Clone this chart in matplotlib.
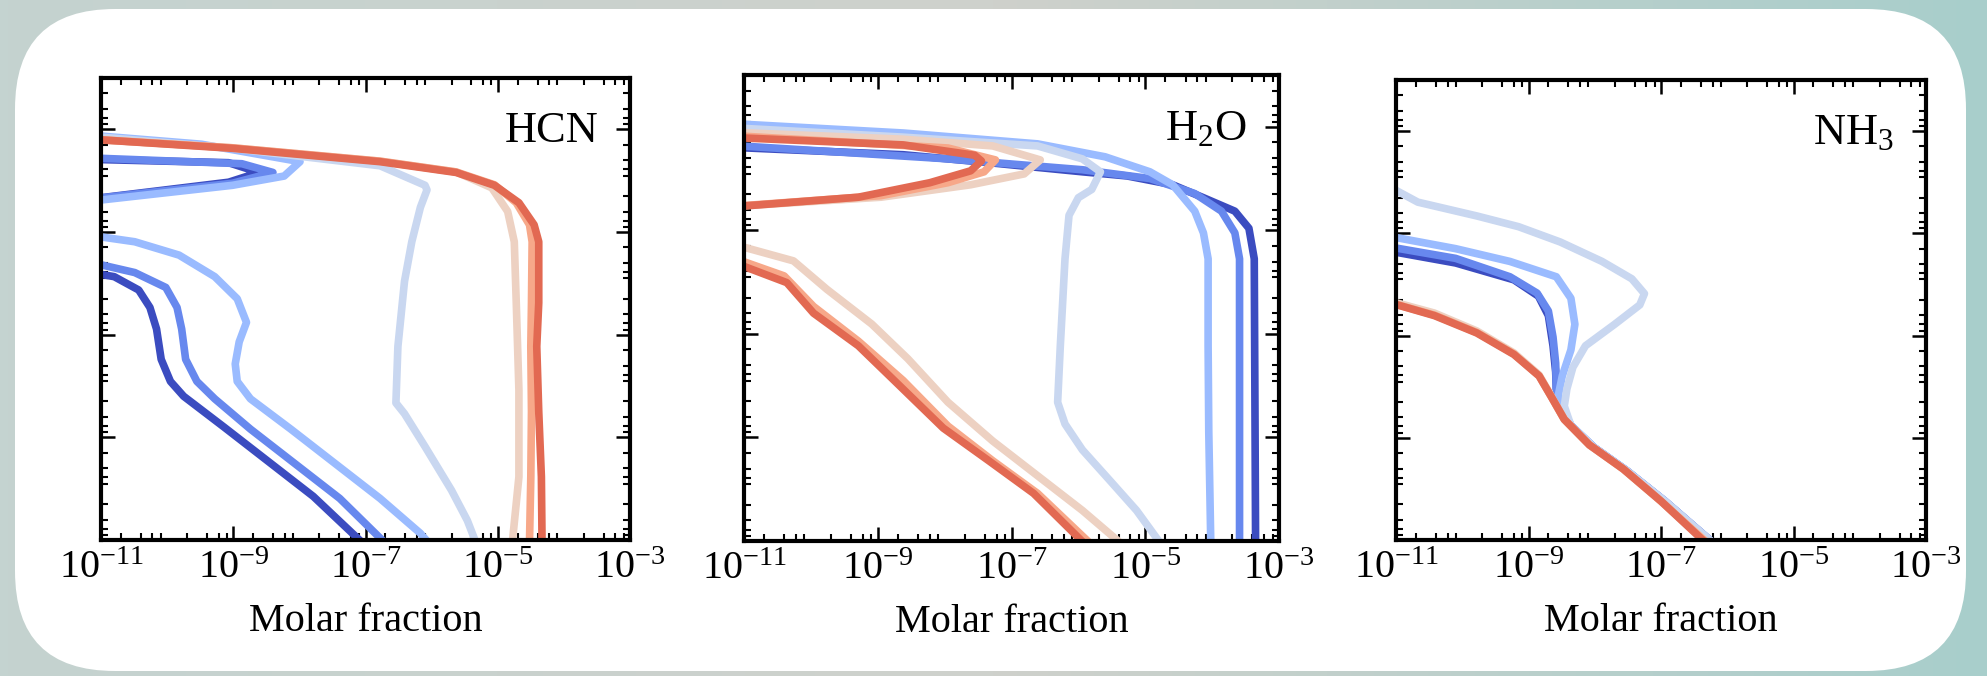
import numpy as np
import matplotlib
matplotlib.use("Agg")
import matplotlib.pyplot as plt
from matplotlib.patches import FancyBboxPatch
from matplotlib.ticker import FixedLocator, LogFormatterMathtext, NullFormatter
from matplotlib.colors import LinearSegmentedColormap

plt.rcParams['font.family'] = ['Liberation Serif', 'DejaVu Serif']
plt.rcParams['mathtext.fontset'] = 'custom'
plt.rcParams['mathtext.rm'] = 'Liberation Serif'
plt.rcParams['mathtext.it'] = 'Liberation Serif:italic'

# each curve: list of (log10 molar fraction, log10 pressure); x < -11 means off the left edge
hcn = [
    # dark blue
    [(-11.3, -5.42), (-9.07, -5.35), (-8.61, -5.16), (-9.07, -4.97), (-11.3, -4.62), (-14, -4.0),
     (-11.3, -3.24), (-10.80, -3.13), (-10.43, -2.87), (-10.26, -2.53), (-10.16, -2.11), (-10.09, -1.52),
     (-9.95, -1.09), (-9.75, -0.80), (-9.14, -0.20), (-8.47, 0.47), (-7.79, 1.15), (-7.05, 2.05)],
    # blue
    [(-11.3, -5.45), (-8.87, -5.33), (-8.40, -5.16), (-9.01, -4.95), (-11.3, -4.62), (-14, -4.0),
     (-11.3, -3.45), (-10.49, -3.21), (-10.02, -2.92), (-9.85, -2.53), (-9.78, -2.11), (-9.72, -1.52),
     (-9.55, -1.09), (-9.28, -0.75), (-8.74, -0.16), (-8.06, 0.52), (-7.39, 1.19), (-6.71, 2.05)],
    # light blue
    [(-11.3, -5.90), (-9.48, -5.71), (-7.99, -5.37), (-8.23, -5.09), (-9.01, -4.91), (-11.3, -4.58), (-14, -4.2),
     (-11.3, -3.96), (-10.49, -3.81), (-9.82, -3.55), (-9.28, -3.13), (-8.94, -2.70), (-8.80, -2.24),
     (-8.91, -1.86), (-8.97, -1.43), (-8.94, -1.09), (-8.74, -0.75), (-8.13, -0.16), (-7.45, 0.52),
     (-6.78, 1.19), (-6.17, 1.87), (-6.05, 2.05)],
    # very light blue
    [(-11.3, -5.88), (-9.01, -5.63), (-6.78, -5.29), (-6.10, -4.91), (-6.07, -4.82), (-6.17, -4.48),
     (-6.30, -3.81), (-6.41, -3.04), (-6.51, -1.77), (-6.54, -0.67), (-6.41, -0.46), (-6.10, 0.18),
     (-5.70, 1.03), (-5.46, 1.62), (-5.33, 2.05)],
    # peach
    [(-11.3, -5.82), (-9.01, -5.64), (-6.78, -5.38), (-5.63, -5.17), (-5.09, -4.86), (-4.85, -4.40),
     (-4.75, -3.81), (-4.72, -2.62), (-4.68, -0.92), (-4.68, 0.77), (-4.78, 2.05)],
    # salmon
    [(-11.3, -5.82), (-9.01, -5.64), (-6.78, -5.38), (-5.63, -5.17), (-5.05, -4.92), (-4.72, -4.57),
     (-4.52, -4.14), (-4.48, -3.81), (-4.49, -2.62), (-4.50, -1.77), (-4.49, -0.50), (-4.50, 0.77),
     (-4.52, 2.05)],
    # red
    [(-11.3, -5.82), (-9.01, -5.63), (-6.78, -5.37), (-5.63, -5.16), (-5.05, -4.91), (-4.68, -4.57),
     (-4.45, -4.14), (-4.38, -3.81), (-4.38, -2.62), (-4.41, -1.77), (-4.38, -0.50), (-4.34, 0.77),
     (-4.33, 2.05)],
]

h2o = [
    # dark blue
    [(-11.3, -5.61), (-8.62, -5.46), (-7.28, -5.30), (-5.94, -5.13), (-5.27, -5.05), (-4.59, -4.88),
     (-4.13, -4.63), (-3.66, -4.37), (-3.45, -4.04), (-3.37, -3.45), (-3.35, 2.05)],
    # blue
    [(-11.3, -5.65), (-7.95, -5.38), (-5.94, -5.17), (-4.93, -5.00), (-4.26, -4.71), (-3.86, -4.37),
     (-3.66, -3.95), (-3.59, -3.45), (-3.59, 2.05)],
    # light blue
    [(-11.3, -6.07), (-8.62, -5.88), (-6.61, -5.67), (-5.60, -5.42), (-4.93, -5.13), (-4.59, -4.88),
     (-4.26, -4.37), (-4.13, -3.95), (-4.06, -3.45), (-4.06, -1.77), (-4.05, -0.10), (-4.02, 2.05)],
    # very light blue
    [(-11.3, -5.99), (-8.62, -5.80), (-6.61, -5.63), (-5.94, -5.38), (-5.67, -5.13), (-5.80, -4.79),
     (-6.00, -4.63), (-6.14, -4.29), (-6.20, -3.45), (-6.27, -1.77), (-6.31, -0.68), (-6.20, -0.26),
     (-5.94, 0.24), (-5.53, 0.83), (-5.13, 1.41), (-4.77, 2.05)],
    # peach
    [(-11.3, -5.90), (-8.62, -5.76), (-7.28, -5.63), (-6.57, -5.36), (-6.81, -5.09), (-7.61, -4.88),
     (-8.95, -4.64), (-11.3, -4.45), (-14, -4.1),
     (-11.3, -3.78), (-10.26, -3.41), (-9.76, -2.86), (-9.09, -2.19), (-8.55, -1.52), (-7.95, -0.68),
     (-7.28, 0.07), (-6.61, 0.74), (-5.94, 1.41), (-5.36, 2.05)],
    # salmon
    [(-11.3, -5.84), (-7.95, -5.59), (-7.24, -5.36), (-7.41, -5.13), (-7.95, -4.92), (-8.95, -4.67),
     (-11.3, -4.45), (-14, -4.0),
     (-11.3, -3.53), (-10.40, -3.12), (-9.96, -2.53), (-9.29, -1.86), (-8.62, -1.10), (-7.95, -0.22),
     (-7.28, 0.45), (-6.61, 1.08), (-5.82, 2.05)],
    # red
    [(-11.3, -5.80), (-8.62, -5.65), (-7.55, -5.45), (-7.45, -5.34), (-7.61, -5.15), (-8.22, -4.92),
     (-9.29, -4.64), (-11.3, -4.44), (-14, -4.0),
     (-11.3, -3.45), (-10.36, -2.99), (-9.96, -2.40), (-9.29, -1.77), (-8.69, -1.02), (-8.02, -0.18),
     (-7.34, 0.45), (-6.67, 1.08), (-5.91, 2.05)],
]

nh3_tail = [(-8.36, -0.24), (-8.01, 0.19), (-7.51, 0.65), (-6.94, 1.24), (-6.22, 2.05)]
nh3 = [
    # dark blue
    [(-11.3, -3.70), (-10.10, -3.42), (-9.22, -3.09), (-8.85, -2.77), (-8.70, -2.39), (-8.63, -1.80),
     (-8.59, -1.29), (-8.58, -0.96), (-8.53, -0.66)] + nh3_tail,
    # blue
    [(-11.3, -3.78), (-10.10, -3.51), (-9.28, -3.15), (-8.87, -2.83), (-8.70, -2.48), (-8.63, -1.97),
     (-8.59, -1.46), (-8.58, -0.96), (-8.53, -0.66)] + nh3_tail,
    # light blue
    [(-11.3, -3.99), (-10.10, -3.70), (-9.28, -3.45), (-8.58, -3.15), (-8.36, -2.73), (-8.30, -2.22),
     (-8.36, -1.72), (-8.49, -1.21), (-8.55, -0.83), (-8.46, -0.45)] + nh3_tail,
    # very light blue
    [(-11.3, -5.05), (-10.67, -4.61), (-9.78, -4.34), (-9.15, -4.13), (-8.52, -3.83), (-7.89, -3.45),
     (-7.44, -3.11), (-7.25, -2.82), (-7.32, -2.60), (-7.70, -2.22), (-8.14, -1.80), (-8.33, -1.38),
     (-8.42, -0.96), (-8.46, -0.62)] + nh3_tail,
    # peach
    [(-11.3, -2.75), (-10.42, -2.44), (-9.78, -2.09), (-9.22, -1.66), (-8.84, -1.23), (-8.65, -0.80),
     (-8.46, -0.36), (-8.08, 0.14), (-7.57, 0.61), (-7.00, 1.24), (-6.30, 2.05)],
    # salmon
    [(-11.3, -2.72), (-10.42, -2.40), (-9.78, -2.06), (-9.22, -1.64), (-8.84, -1.21), (-8.65, -0.79),
     (-8.46, -0.36), (-8.08, 0.14), (-7.57, 0.61), (-7.00, 1.24), (-6.31, 2.05)],
    # red
    [(-11.3, -2.72), (-10.42, -2.39), (-9.78, -2.05), (-9.22, -1.63), (-8.84, -1.21), (-8.65, -0.79),
     (-8.46, -0.36), (-8.08, 0.14), (-7.57, 0.61), (-7.00, 1.24), (-6.33, 2.05)],
]

species = ['HCN', 'H$_2$O', 'NH$_3$']
x_ticks = [1e-11, 1e-9, 1e-7, 1e-5, 1e-3]
y_ticks = [1e-6, 1e-4, 1e-2, 1e0, 1e2]

colors = plt.cm.coolwarm(np.linspace(0, 1, 8))[:7]

fig = plt.figure(figsize=(19.87, 6.76), dpi=100)

# background: gradient with white rounded card
bg = fig.add_axes([0, 0, 1, 1], zorder=-10)
grad = LinearSegmentedColormap.from_list('bg', ['#c4d3d0', '#cfd1cc', '#a8cecb'])
bg.imshow(np.linspace(0, 1, 256)[None, :], aspect='auto', cmap=grad,
          extent=[0, 1987, 676, 0])
bg.add_patch(FancyBboxPatch((15, 9), 1951, 662, boxstyle='round,pad=0,rounding_size=100',
                            facecolor='white', edgecolor='none'))
bg.set_xlim(0, 1987)
bg.set_ylim(676, 0)
bg.axis('off')

boxes = [(101, 78, 630, 540), (744, 75, 1279, 541), (1396, 80, 1926, 540)]
panels = [hcn, h2o, nh3]

minor_x = [k * 10.0 ** n for n in range(-11, -3) for k in (2, 4, 6, 8)]
minor_y = [k * 10.0 ** n for n in range(-7, 2) for k in (2, 4, 6, 8)]

for (x0, y0, x1, y1), curves, name in zip(boxes, panels, species):
    ax = fig.add_axes([x0 / 1987, 1 - y1 / 676, (x1 - x0) / 1987, (y1 - y0) / 676])
    for c, curve in zip(colors, curves):
        pts = np.array(curve)
        ax.plot(10 ** pts[:, 0], 10 ** pts[:, 1], color=c, lw=5.5,
                solid_joinstyle='round', solid_capstyle='round')
    ax.set_xscale('log')
    ax.set_yscale('log')
    ax.set_xlim(1e-11, 1e-3)
    ax.set_ylim(1e2, 1e-7)
    ax.xaxis.set_major_locator(FixedLocator(x_ticks))
    ax.xaxis.set_major_formatter(LogFormatterMathtext())
    ax.xaxis.set_minor_locator(FixedLocator(minor_x))
    ax.xaxis.set_minor_formatter(NullFormatter())
    ax.yaxis.set_major_locator(FixedLocator(y_ticks))
    ax.yaxis.set_minor_locator(FixedLocator(minor_y))
    ax.yaxis.set_major_formatter(NullFormatter())
    ax.yaxis.set_minor_formatter(NullFormatter())
    ax.tick_params(which='both', direction='in', top=True, right=True, labelleft=False)
    ax.tick_params(which='major', length=10, width=1.8, labelsize=29, pad=7)
    ax.tick_params(which='minor', length=5, width=1.5)
    for s in ax.spines.values():
        s.set_linewidth(3)
    ax.set_xlabel('Molar fraction', fontsize=29, labelpad=12)
    ax.text(0.94, 0.885, name, transform=ax.transAxes, ha='right', va='center', fontsize=32)

fig.savefig('out.png', dpi=100)
